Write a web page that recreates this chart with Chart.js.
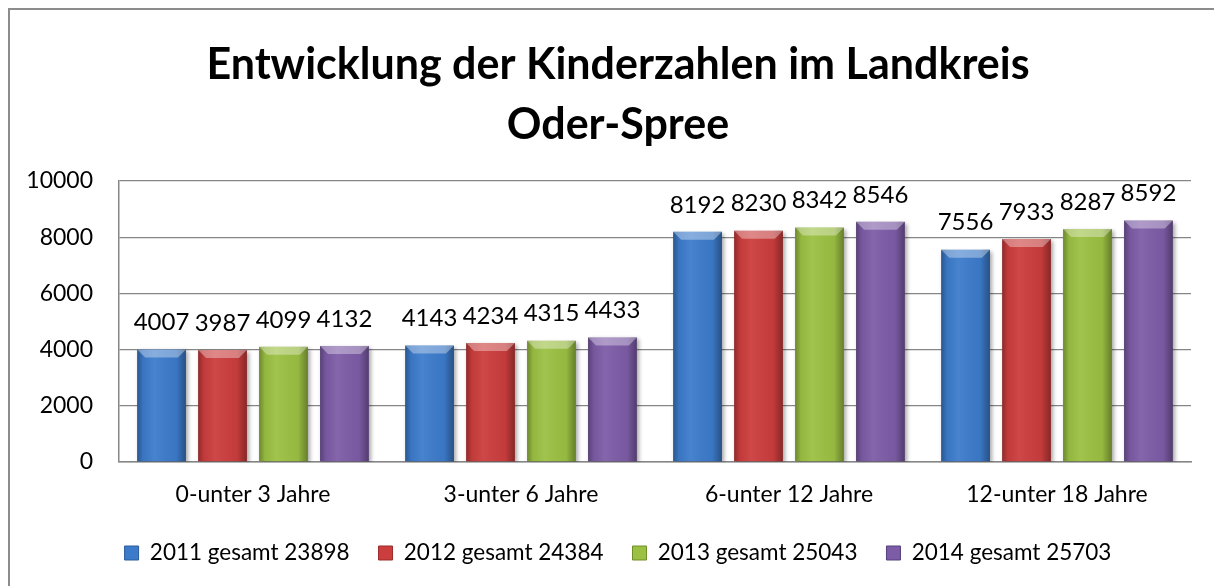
<!DOCTYPE html>
<html>
<head>
<meta charset="utf-8">
<script src="https://cdn.jsdelivr.net/npm/chart.js@4.4.1/dist/chart.umd.min.js"></script>
<style>
  html, body { margin: 0; padding: 0; background: #fff; overflow: hidden; }
  #rahmen { position: absolute; left: 8px; top: 8px; width: 1300px; height: 700px;
            border-left: 2px solid #8c8c8c; border-top: 2px solid #8c8c8c; }
  #wrap { position: absolute; left: 0; top: 0; width: 1214px; height: 586px; }
</style>
</head>
<body>
<div id="rahmen"></div>
<div id="wrap"><canvas id="diagramm"></canvas></div>
<script>
const titel = ['Entwicklung der Kinderzahlen im Landkreis', 'Oder-Spree'];
const kategorien = ['0-unter 3 Jahre', '3-unter 6 Jahre', '6-unter 12 Jahre', '12-unter 18 Jahre'];
const reihen = ['2011 gesamt 23898', '2012 gesamt 24384', '2013 gesamt 25043', '2014 gesamt 25703'];
const werte2011 = [4007, 4143, 8192, 7556];
const werte2012 = [3987, 4234, 8230, 7933];
const werte2013 = [4099, 4315, 8342, 8287];
const werte2014 = [4132, 4433, 8546, 8592];
const farben = ['#3c7bcb', '#cc3d3d', '#9bc043', '#7d5ca7'];
const rahmenFarben = ['#2b5c9c', '#9c2b2b', '#6f8f2b', '#573f7c'];

const schrift = 'Lato';

// Schattierung wie bei den Excel-Balken (Kante + Abschrägung oben)
const balkenEffekt = {
    id: 'balkenEffekt',
    beforeDatasetDraw(chart) {
        const ctx = chart.ctx;
        ctx.save();
        ctx.shadowColor = 'rgba(0,0,0,0.35)';
        ctx.shadowBlur = 4;
        ctx.shadowOffsetX = 2;
        ctx.shadowOffsetY = 2;
    },
    afterDatasetDraw(chart, args) {
        const ctx = chart.ctx;
        ctx.restore();
        ctx.save();
        args.meta.data.forEach(bar => {
            const l = bar.x - bar.width / 2;
            const r = bar.x + bar.width / 2;
            const t = bar.y;
            const b = bar.base;
            const g = ctx.createLinearGradient(l, 0, r, 0);
            g.addColorStop(0, 'rgba(0,0,0,0.30)');
            g.addColorStop(0.12, 'rgba(0,0,0,0.05)');
            g.addColorStop(0.35, 'rgba(255,255,255,0.06)');
            g.addColorStop(0.8, 'rgba(0,0,0,0.04)');
            g.addColorStop(1, 'rgba(0,0,0,0.35)');
            ctx.fillStyle = g;
            ctx.fillRect(l, t, r - l, b - t);
            const k = 8;
            ctx.beginPath();
            ctx.moveTo(l, t);
            ctx.lineTo(r, t);
            ctx.lineTo(r - k, t + k);
            ctx.lineTo(l + k, t + k);
            ctx.closePath();
            ctx.fillStyle = 'rgba(255,255,255,0.35)';
            ctx.fill();
        });
        ctx.restore();
    }
};

// Werte über den Balken
const wertBeschriftung = {
    id: 'wertBeschriftung',
    afterDatasetsDraw(chart) {
        const ctx = chart.ctx;
        ctx.save();
        ctx.font = `24px ${schrift}`;
        ctx.fillStyle = '#000';
        ctx.textAlign = 'center';
        ctx.textBaseline = 'middle';
        chart.data.datasets.forEach((ds, i) => {
            chart.getDatasetMeta(i).data.forEach((bar, j) => {
                ctx.fillText(String(ds.data[j]), bar.x, bar.y - 27);
            });
        });
        ctx.restore();
    }
};

const alleWerte = [werte2011, werte2012, werte2013, werte2014];

new Chart(document.getElementById('diagramm'), {
    type: 'bar',
    data: {
        labels: kategorien,
        datasets: reihen.map((name, i) => ({
            label: name,
            data: alleWerte[i],
            backgroundColor: farben[i],
            borderColor: rahmenFarben[i],
            borderWidth: 0,
            categoryPercentage: 0.91,
            barPercentage: 0.8
        }))
    },
    options: {
        responsive: true,
        maintainAspectRatio: false,
        animation: false,
        layout: { padding: { left: 22, right: 0, top: 0, bottom: 11.75 } },
        plugins: {
            title: {
                display: true,
                text: titel,
                color: '#000',
                font: { family: schrift, size: 43, weight: 'bold', lineHeight: 1.395 },
                padding: { top: 35, bottom: 26 }
            },
            legend: {
                position: 'bottom',
                labels: {
                    color: '#000',
                    font: { family: schrift, size: 22.5 },
                    boxWidth: 14,
                    boxHeight: 14,
                    padding: 29,
                    generateLabels: chart => reihen.map((name, i) => ({
                        text: name,
                        fillStyle: farben[i],
                        strokeStyle: rahmenFarben[i],
                        lineWidth: 1,
                        datasetIndex: i
                    }))
                }
            },
            tooltip: { enabled: false }
        },
        scales: {
            x: {
                grid: { display: false, drawTicks: false },
                border: { display: true, color: '#868686', width: 1.5 },
                ticks: { color: '#000', font: { family: schrift, size: 23 }, padding: 19 },
                afterFit: scale => { scale.height = 50.75; }
            },
            y: {
                min: 0,
                max: 10000,
                ticks: {
                    stepSize: 2000,
                    color: '#000',
                    font: { family: schrift, size: 23 },
                    padding: 26,
                    callback: v => String(v)
                },
                grid: { color: '#868686', lineWidth: 1.3, drawTicks: false },
                border: { display: true, color: '#868686', width: 1.5 },
                afterFit: scale => { scale.width = 97; }
            },
            rechts: {
                position: 'right',
                grid: { display: false, drawTicks: false },
                border: { display: false },
                ticks: { display: false },
                afterFit: scale => { scale.width = 23; }
            }
        }
    },
    plugins: [balkenEffekt, wertBeschriftung]
});
</script>
</body>
</html>
